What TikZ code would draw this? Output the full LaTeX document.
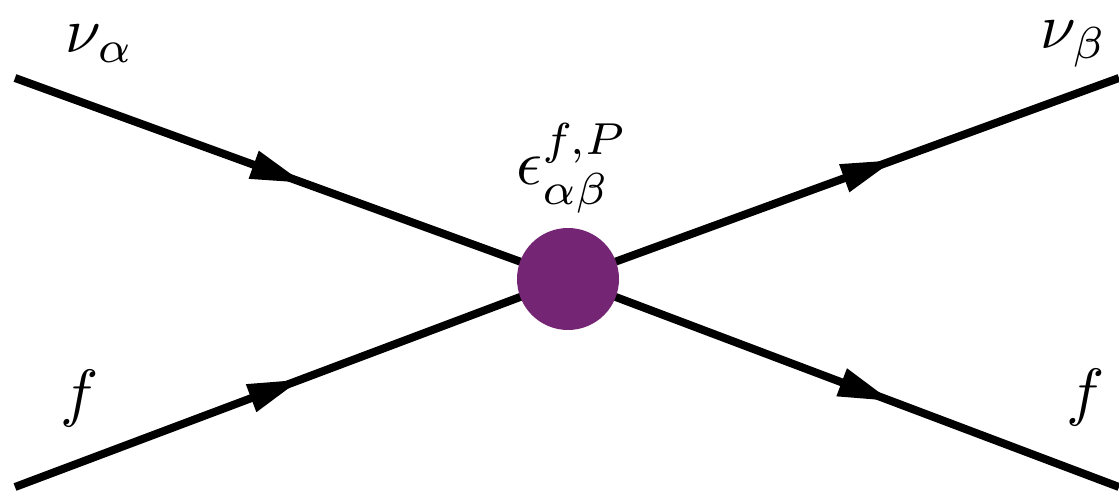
\documentclass[tikz,border=0pt]{standalone}
\usetikzlibrary{arrows.meta,decorations.markings}
\definecolor{blobpurple}{RGB}{116,38,116}
\begin{document}
\begin{tikzpicture}[x=1pt,y=-1pt,
  fermion/.style={line width=8pt,
    postaction={decorate,decoration={markings,
      mark=at position #1 with {\arrow[line width=0pt]{Triangle[length=52pt,width=30pt]}}}}},
  lbl/.style={scale=6.4,inner sep=0pt}]
\useasboundingbox (0,0) rectangle (1119,492);
\coordinate (na) at (15,78);
\coordinate (fa) at (15,487);
\coordinate (nb) at (1119,78);
\coordinate (fb) at (1119,487);
\coordinate (v) at (568,279);
\draw[fermion=0.52] (na) -- (v);
\draw[fermion=0.515] (fa) -- (v);
\draw[fermion=0.59] (v) -- (nb);
\draw[fermion=0.585] (v) -- (fb);
\node[circle,fill=blobpurple,minimum size=102pt,inner sep=0pt] (vx) at (v) {};
\node[lbl] (lna) at (100,44) {$\nu_\alpha$};
\node[lbl] (lnb) at (1074,44) {$\nu_\beta$};
\node[lbl] (lfa) at (80,398) {$f$};
\node[lbl] (lfb) at (1086,397) {$f$};
\node[lbl] (leps) at (572,168) {$\epsilon^{f,P}_{\alpha\beta}$};
\end{tikzpicture}
\end{document}
